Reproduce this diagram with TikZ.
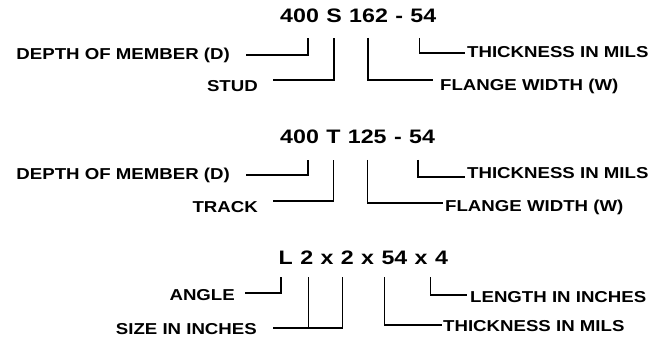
\documentclass[tikz,border=0pt]{standalone}
\usepackage{fontspec}
\setmainfont{Liberation Sans}
\newfontfamily\codefont[FakeStretch=1.19]{Liberation Sans}
\newfontfamily\lblfont[FakeStretch=1.18]{Liberation Sans}
\begin{document}
\begin{tikzpicture}[x=1pt,y=-1pt,
  code/.style={font=\codefont\fontsize{19.5}{20}\selectfont\bfseries, inner sep=0pt, anchor=base west},
  lbl/.style={font=\lblfont\fontsize{15.8}{16}\selectfont\bfseries, inner sep=0pt},
  lead/.style={line width=1.3pt, line cap=butt}]
\fill[white] (0,0) rectangle (650,339);
\useasboundingbox (0,0) rectangle (650,339);
\def\gap{7pt}

% ---- stud designation: 400 S 162 - 54
\node[code] (a400)  at (280,23) {400};
\node[code] (aS)    at ([xshift=\gap]a400.base east) {S};
\node[code] (a162)  at ([xshift=\gap]aS.base east) {162};
\node[code] (adash) at ([xshift=\gap]a162.base east) {-};
\node[code] (a54)   at ([xshift=\gap]adash.base east) {54};
\node[lbl, anchor=east] (aDepth)  at (230,55) {DEPTH OF MEMBER (D)};
\node[lbl, anchor=east] (aStud)   at (258,86) {STUD};
\node[lbl, anchor=west] (aFlange) at (440,86) {FLANGE WIDTH (W)};
\node[lbl, anchor=west] (aThick)  at (467,52) {THICKNESS IN MILS};
\draw[lead] ([xshift=16pt]aDepth.east) -| ([xshift=28pt,yshift=-15pt]a400.base west);
\draw[lead] ([xshift=15pt,yshift=6pt]aStud.east) -| ([yshift=-15pt]aS.base);
\draw[lead] ([xshift=19pt,yshift=-15pt]a162.base west) |- ([xshift=-7pt,yshift=6pt]aFlange.west);
\draw[lead] ([xshift=9pt,yshift=-15pt]a54.base west) |- ([xshift=-2pt,yshift=-1pt]aThick.west);

% ---- track designation: 400 T 125 - 54
\node[code] (b400)  at (280,144) {400};
\node[code] (bT)    at ([xshift=\gap]b400.base east) {T};
\node[code] (b125)  at ([xshift=\gap]bT.base east) {125};
\node[code] (bdash) at ([xshift=\gap]b125.base east) {-};
\node[code] (b54)   at ([xshift=\gap]bdash.base east) {54};
\node[lbl, anchor=east] (bDepth)  at (230,175) {DEPTH OF MEMBER (D)};
\node[lbl, anchor=east] (bTrack)  at (258,207) {TRACK};
\node[lbl, anchor=west] (bFlange) at (445,207) {FLANGE WIDTH (W)};
\node[lbl, anchor=west] (bThick)  at (467,173) {THICKNESS IN MILS};
\draw[lead] ([xshift=16pt]bDepth.east) -| ([xshift=28pt,yshift=-16pt]b400.base west);
\draw[lead] ([xshift=15pt,yshift=6pt]bTrack.east) -| ([yshift=-16pt]bT.base);
\draw[lead] ([xshift=20pt,yshift=-16pt]b125.base west) |- ([xshift=-2pt,yshift=4pt]bFlange.west);
\draw[lead] ([xshift=9pt,yshift=-16pt]b54.base west) |- ([xshift=-2pt,yshift=-4pt]bThick.west);

% ---- angle designation: L 2 x 2 x 54 x 4
\node[code] (cL)  at (278.5,264) {L};
\node[code] (c2a) at ([xshift=\gap]cL.base east) {2};
\node[code] (cx1) at ([xshift=\gap]c2a.base east) {x};
\node[code] (c2b) at ([xshift=\gap]cx1.base east) {2};
\node[code] (cx2) at ([xshift=\gap]c2b.base east) {x};
\node[code] (c54) at ([xshift=\gap]cx2.base east) {54};
\node[code] (cx3) at ([xshift=\gap]c54.base east) {x};
\node[code] (c4)  at ([xshift=\gap]cx3.base east) {4};
\node[lbl, anchor=east] (cAngle)  at (235,295) {ANGLE};
\node[lbl, anchor=east] (cSize)   at (257,329) {SIZE IN INCHES};
\node[lbl, anchor=west] (cThick)  at (443,326) {THICKNESS IN MILS};
\node[lbl, anchor=west] (cLength) at (470,297) {LENGTH IN INCHES};
\draw[lead] ([xshift=10pt,yshift=2pt]cAngle.east) -| ([xshift=2.5pt,yshift=-13pt]cL.base west);
\draw[lead] ([xshift=16pt,yshift=1pt]cSize.east) -| ([xshift=1.5pt,yshift=-13pt]c2b.base west);
\draw[lead] ([xshift=8.5pt,yshift=-13pt]c2a.base west) |- ([xshift=16pt,yshift=1pt]cSize.east);
\draw[lead] ([xshift=3.5pt,yshift=-13pt]c54.base west) |- ([xshift=-1pt,yshift=1pt]cThick.west);
\draw[lead] ([xshift=-4pt,yshift=-13pt]c4.base west) |- ([xshift=-3pt,yshift=2pt]cLength.west);
\end{tikzpicture}
\end{document}
